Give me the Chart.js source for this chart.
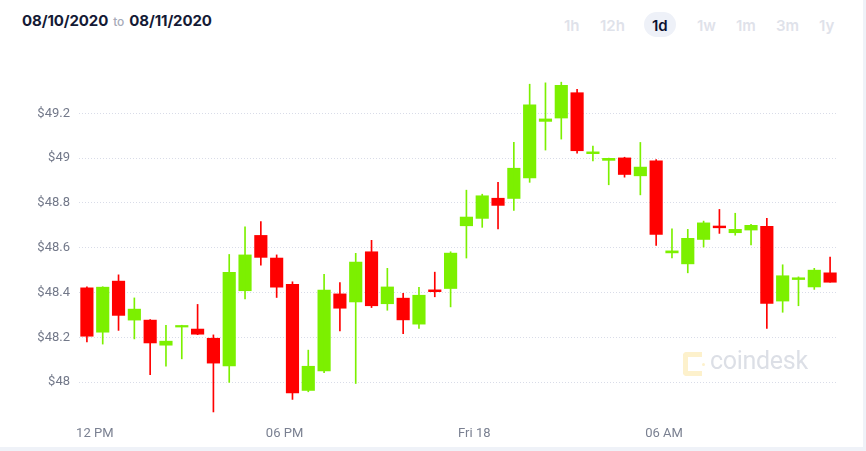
<!DOCTYPE html>
<html>
<head>
<meta charset="utf-8">
<script src="https://cdn.jsdelivr.net/npm/chart.js@4.4.1/dist/chart.umd.min.js"></script>
<style>
  html, body { margin: 0; padding: 0; }
  body { width: 866px; height: 451px; background: #eff2f8; position: relative; overflow: hidden; font-family: Inter, "Noto Sans", sans-serif; }
  #panel { position: absolute; left: 0; top: 0; width: 863px; height: 447px; background: #fff; }
  #range { position: absolute; left: 22px; top: 11px; font-size: 15px; font-weight: 700; color: #141a35; white-space: nowrap; letter-spacing: -0.1px; }
  #range .to { font-size: 12px; font-weight: 500; color: #a6aab8; margin: 0 5px; }
  .btn { position: absolute; top: 16px; font-size: 15px; font-weight: 600; color: #dfe2ea; }
  .btn.on { color: #0c1131; }
  #pill { position: absolute; left: 644px; top: 12px; width: 32px; height: 25px; border-radius: 13px; background: #eef1f8; }
  #wrap { position: absolute; left: 0; top: 50px; width: 863px; height: 397px; }
  #mark { position: absolute; left: 710px; top: 346px; font-family: Roboto, sans-serif; font-size: 25px; color: #dcdfe6; letter-spacing: -0.3px; }
  #logo { position: absolute; left: 683px; top: 352px; width: 14px; height: 14px; border: 5px solid #fdf1cc; border-right: none; border-radius: 4px 0 0 4px; }
  .dot { position: absolute; width: 3px; height: 3px; border-radius: 2px; background: #fdf1cc; }
</style>
</head>
<body>
<div id="panel"></div>
<div id="range">08/10/2020<span class="to">to</span>08/11/2020</div>
<div id="pill"></div>
<div class="btn" style="left:564px">1h</div>
<div class="btn" style="left:600px">12h</div>
<div class="btn on" style="left:652px">1d</div>
<div class="btn" style="left:697px">1w</div>
<div class="btn" style="left:736px">1m</div>
<div class="btn" style="left:776px">3m</div>
<div class="btn" style="left:819px">1y</div>
<div id="wrap"><canvas id="chart"></canvas></div>
<div id="logo"></div>
<div class="dot" style="left:699px;top:352px"></div>
<div class="dot" style="left:702px;top:363px"></div>
<div class="dot" style="left:699px;top:372px"></div>
<div id="mark">coindesk</div>
<script>
'use strict';

// 30 minute candles, 08/10 11:45 -> 08/11 11:15
let openArr = [48.421, 48.223, 48.451, 48.277, 48.277, 48.165, 48.246, 48.237, 48.196, 48.073, 48.408, 48.655,
  48.554, 48.437, 47.963, 48.050, 48.394, 48.358, 48.582, 48.350, 48.375, 48.259, 48.412, 48.418,
  48.698, 48.731, 48.821, 48.820, 48.912, 49.164, 49.179, 49.292, 49.020, 48.990, 49.001, 48.921,
  48.988, 48.577, 48.528, 48.637, 48.697, 48.667, 48.679, 48.696, 48.362, 48.458, 48.425, 48.488];
let highArr = [48.425, 48.426, 48.479, 48.376, 48.279, 48.254, 48.254, 48.347, 48.211, 48.570, 48.693, 48.717,
  48.568, 48.448, 48.143, 48.481, 48.445, 48.575, 48.633, 48.508, 48.396, 48.423, 48.491, 48.582,
  48.857, 48.839, 48.892, 49.071, 49.330, 49.336, 49.339, 49.307, 49.054, 49.000, 49.004, 49.070,
  48.994, 48.684, 48.682, 48.719, 48.771, 48.754, 48.704, 48.731, 48.524, 48.470, 48.508, 48.558];
let lowArr = [48.180, 48.170, 48.231, 48.193, 48.033, 48.071, 48.104, 48.212, 47.867, 47.999, 48.371, 48.522,
  48.378, 47.923, 47.957, 48.042, 48.229, 47.994, 48.333, 48.321, 48.216, 48.240, 48.381, 48.336,
  48.554, 48.691, 48.684, 48.767, 48.892, 49.036, 49.085, 49.022, 48.987, 48.881, 48.915, 48.836,
  48.610, 48.555, 48.488, 48.603, 48.664, 48.656, 48.613, 48.240, 48.312, 48.341, 48.414, 48.446];
let closeArr = [48.205, 48.424, 48.298, 48.326, 48.175, 48.183, 48.253, 48.214, 48.085, 48.490, 48.568, 48.557,
  48.424, 47.952, 48.071, 48.411, 48.330, 48.536, 48.341, 48.425, 48.278, 48.388, 48.404, 48.576,
  48.737, 48.832, 48.789, 48.955, 49.238, 49.175, 49.325, 49.033, 49.028, 48.999, 48.927, 48.960,
  48.659, 48.586, 48.642, 48.711, 48.689, 48.682, 48.700, 48.351, 48.475, 48.466, 48.500, 48.446];

let xTickPos = [0.5, 12.5, 24.5, 36.5];
let xTickLabels = ['12 PM', '06 PM', 'Fri 18', '06 AM'];
let yTicks = [48, 48.2, 48.4, 48.6, 48.8, 49, 49.2];
let yTickLabels = ['$48', '$48.2', '$48.4', '$48.6', '$48.8', '$49', '$49.2'];

const UP = '#7cf000';
const DOWN = '#ff0000';

let bodies = [];
let wicks = [];
let colors = [];
for (let i = 0; i < openArr.length; i++) {
  bodies.push({ x: i, y: [openArr[i], closeArr[i]] });
  wicks.push({ x: i, y: [lowArr[i], highArr[i]] });
  colors.push(closeArr[i] >= openArr[i] ? UP : DOWN);
}

new Chart(document.getElementById('chart'), {
  type: 'bar',
  data: {
    datasets: [{
      data: wicks,
      backgroundColor: colors,
      barThickness: 1,
      grouped: false
    },
    {
      data: bodies,
      backgroundColor: colors,
      barThickness: 12.5,
      grouped: false
    }]
  },
  options: {
    responsive: true,
    maintainAspectRatio: false,
    animation: false,
    layout: { padding: { top: 23, right: 25, left: 0, bottom: 0 } },
    plugins: { legend: { display: false }, tooltip: { enabled: false } },
    scales: {
      x: {
        type: 'linear',
        min: -0.5,
        max: 47.5,
        offset: false,
        grid: { display: false },
        border: { display: false },
        afterBuildTicks: (s) => { s.ticks = xTickPos.map(v => ({ value: v })); },
        afterFit: (s) => { s.height = 29; },
        ticks: {
          autoSkip: false,
          maxRotation: 0,
          padding: 0,
          color: '#7a8091',
          font: { family: 'Roboto', size: 13 },
          callback: (v) => xTickLabels[xTickPos.indexOf(v)]
        }
      },
      y: {
        min: 47.84,
        max: 49.38,
        z: 1,
        border: { display: false, dash: [1, 2] },
        grid: { color: '#d9dce8', drawTicks: false },
        afterBuildTicks: (s) => { s.ticks = yTicks.map(v => ({ value: v })); },
        afterFit: (s) => { s.width = 79; },
        ticks: {
          padding: 9,
          color: '#727889',
          font: { family: 'Roboto', size: 13 },
          callback: (v) => yTickLabels[yTicks.indexOf(v)]
        }
      }
    }
  }
});
</script>
</body>
</html>
